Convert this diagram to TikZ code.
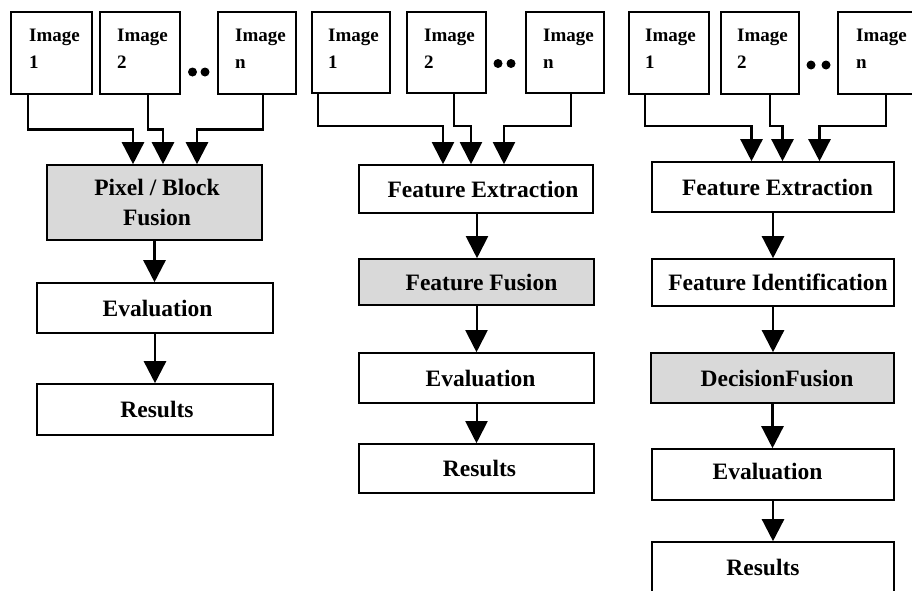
\documentclass[tikz,border=0pt]{standalone}
\usepackage{fontspec}
\setmainfont{Liberation Serif}
\usetikzlibrary{arrows.meta}

\definecolor{fusiongray}{HTML}{D9D9D9}

\tikzset{
  imgbox/.style={draw=black, line width=1.5pt, fill=white, inner sep=0pt},
  imglabel/.style={anchor=base west, inner sep=0pt, align=left,
    font=\fontsize{19}{27}\selectfont\bfseries},
  stepbox/.style={draw=black, line width=1.6pt, fill=white, inner sep=0pt,
    font=\fontsize{23.5}{30}\selectfont\bfseries, align=center},
  fusebox/.style={stepbox, fill=fusiongray},
  conn/.style={draw=black, line width=2.2pt,
    -{Triangle[width=22pt,length=22pt]}},
  dotmark/.style={circle, fill=black, inner sep=0pt, minimum size=9pt}
}

\begin{document}
\begin{tikzpicture}[x=1pt, y=-1pt]
\useasboundingbox (0,0) rectangle (912,590);
\clip (0,0) rectangle (912,590);

% ---------------- Pixel / block level fusion ----------------
\node[imgbox, minimum width=81pt, minimum height=82pt] (a1) at (51.5,53) {};
\node[imgbox, minimum width=80pt, minimum height=82pt] (a2) at (140,53) {};
\node[imgbox, minimum width=78pt, minimum height=82pt] (an) at (257,53) {};
% the base anchor of a two-line label sits on its second line
\node[imglabel] (a1t) at (29,68) {Image\\1};
\node[imglabel] (a2t) at (117,68) {Image\\2};
\node[imglabel] (ant) at (235,68) {Image\\n};
\node[dotmark] (ad1) at (192.5,72) {};
\node[dotmark] (ad2) at (205,72) {};

\node[fusebox, minimum width=215pt, minimum height=75pt] (ap) at (154.5,202.5)
  {\hspace*{5pt}Pixel / Block\\\hspace*{5pt}Fusion};
\node[stepbox, minimum width=236pt, minimum height=50pt] (ae) at (155,308)
  {\hspace*{5pt}Evaluation};
\node[stepbox, minimum width=236pt, minimum height=51pt] (ar) at (155,409.5)
  {\hspace*{4pt}Results};

\begin{scope}[conn/.append style={line width=2.6pt}]
\draw[conn] ([xshift=-23.5pt]a1.south) |- ([xshift=-21.5pt,yshift=35pt]ap.north)
  -- ([xshift=-21.5pt]ap.north);
\draw[conn] ([xshift=8pt]a2.south) |- ([xshift=8.5pt,yshift=35pt]ap.north)
  -- ([xshift=8.5pt]ap.north);
\draw[conn] ([xshift=6pt]an.south) |- ([xshift=42.5pt,yshift=35pt]ap.north)
  -- ([xshift=42.5pt]ap.north);
\draw[conn] (ap.south) -- (ap.south |- ae.north);
\draw[conn] (ae.south) -- (ae.south |- ar.north);
\end{scope}

% ---------------- Feature level fusion ----------------
\node[imgbox, minimum width=78pt, minimum height=81pt] (b1) at (351,52.5) {};
\node[imgbox, minimum width=79pt, minimum height=81pt] (b2) at (446.5,52.5) {};
\node[imgbox, minimum width=78pt, minimum height=81pt] (bn) at (565,52.5) {};
\node[imglabel] (b1t) at (328,68) {Image\\1};
\node[imglabel] (b2t) at (424,68) {Image\\2};
\node[imglabel] (bnt) at (543,68) {Image\\n};
\node[dotmark] (bd1) at (498,63.5) {};
\node[dotmark] (bd2) at (511,63.5) {};

\node[stepbox, minimum width=234pt, minimum height=48pt] (bx) at (476,189)
  {\hspace*{14pt}Feature Extraction};
\node[fusebox, minimum width=235pt, minimum height=46pt] (bf) at (476.5,282)
  {\hspace*{10pt}Feature Fusion};
\node[stepbox, minimum width=235pt, minimum height=50pt] (be) at (476.5,378)
  {\hspace*{8pt}Evaluation};
\node[stepbox, minimum width=235pt, minimum height=49pt] (br) at (476.5,468.5)
  {\hspace*{6pt}Results};

\begin{scope}[conn/.append style={line width=2pt}]
\draw[conn] ([xshift=-33pt]b1.south) |- ([xshift=-33pt,yshift=38pt]bx.north)
  -- ([xshift=-33pt]bx.north);
\draw[conn] ([xshift=7.5pt]b2.south) |- ([xshift=-5pt,yshift=38pt]bx.north)
  -- ([xshift=-5pt]bx.north);
\draw[conn] ([xshift=6pt]bn.south) |- ([xshift=28pt,yshift=38pt]bx.north)
  -- ([xshift=28pt]bx.north);
\draw[conn] ([xshift=1pt]bx.south) -- ([xshift=1pt]bx.south |- bf.north);
\draw[conn] (bf.south) -- (bf.south |- be.north);
\draw[conn] (be.south) -- (be.south |- br.north);
\end{scope}

% ---------------- Decision level fusion ----------------
\node[imgbox, minimum width=80pt, minimum height=82pt] (c1) at (669,53) {};
\node[imgbox, minimum width=78pt, minimum height=82pt] (c2) at (760,53) {};
\node[imgbox, minimum width=80pt, minimum height=82pt] (cn) at (878,53) {};
\node[imglabel] (c1t) at (645,68) {Image\\1};
\node[imglabel] (c2t) at (737,68) {Image\\2};
\node[imglabel] (cnt) at (856,68) {Image\\n};
\node[dotmark] (cd1) at (811,65) {};
\node[dotmark] (cd2) at (826,65) {};

\node[stepbox, minimum width=242pt, minimum height=50pt] (cx) at (773,187)
  {\hspace*{9pt}Feature Extraction};
\node[stepbox, minimum width=242pt, minimum height=47pt] (ci) at (773,282.5)
  {\hspace*{10pt}Feature Identification};
\node[fusebox, minimum width=243pt, minimum height=50pt] (cf) at (772.5,378)
  {\hspace*{9pt}DecisionFusion};
\node[stepbox, minimum width=242pt, minimum height=51pt] (ce) at (773,474.5)
  {\hspace*{-11pt}\raisebox{6pt}{Evaluation}};
\node[stepbox, minimum width=242pt, minimum height=50pt] (cr) at (773,567)
  {\hspace*{-20pt}Results};

\begin{scope}[conn/.append style={line width=2.4pt}]
\draw[conn] ([xshift=-24pt]c1.south) |- ([xshift=-21.5pt,yshift=35pt]cx.north)
  -- ([xshift=-21.5pt]cx.north);
\draw[conn] ([xshift=10pt]c2.south) |- ([xshift=9.5pt,yshift=35pt]cx.north)
  -- ([xshift=9.5pt]cx.north);
\draw[conn] ([xshift=8pt]cn.south) |- ([xshift=46.5pt,yshift=35pt]cx.north)
  -- ([xshift=46.5pt]cx.north);
\draw[conn] (cx.south) -- (cx.south |- ci.north);
\draw[conn] (ci.south) -- (ci.south |- cf.north);
\draw[conn] (cf.south) -- (cf.south |- ce.north);
\draw[conn] (ce.south) -- (ce.south |- cr.north);
\end{scope}

\end{tikzpicture}
\end{document}
